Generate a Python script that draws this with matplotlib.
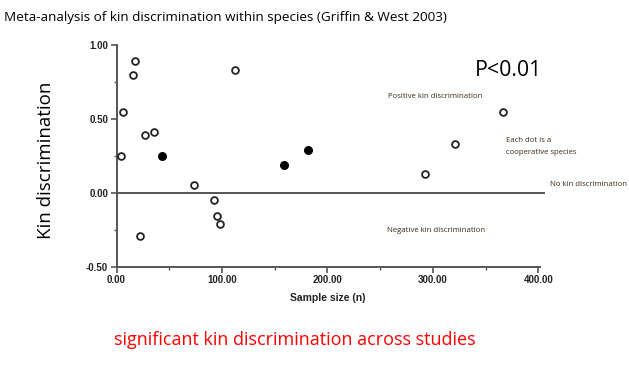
import matplotlib
matplotlib.use("Agg")
import matplotlib.pyplot as plt

# Data
open_n = [4, 6, 18, 16, 27, 36, 112, 22, 73, 92, 95, 98, 292, 321, 366]
open_k = [0.25, 0.55, 0.89, 0.80, 0.39, 0.41, 0.83, -0.29, 0.05, -0.05, -0.16, -0.21, 0.125, 0.333, 0.55]
filled_n = [43, 159, 182]
filled_k = [0.25, 0.186, 0.288]
xticks = [0, 100, 200, 300, 400]
yticks = [-0.5, 0.0, 0.5, 1.0]

W, H = 629, 365
fig = plt.figure(figsize=(W / 100, H / 100), dpi=100)
fig.patch.set_facecolor("white")

def fx(px):
    return px / W

def fy(py):
    return 1 - py / H

left, right, top, bottom = 116.5, 539.5, 45, 266.7
ax = fig.add_axes([fx(left), fy(bottom), (right - left) / W, (bottom - top) / H])
ax.set_xlim(0, 401)
ax.set_ylim(-0.5, 1.0)

ax.scatter(open_n, open_k, s=24, facecolors="white", edgecolors="#222222", linewidths=1.3, zorder=3, clip_on=False)
ax.scatter(filled_n, filled_k, s=32, facecolors="black", edgecolors="black", linewidths=0.8, zorder=3, clip_on=False)

ax.plot([0, 405], [0, 0], color="#555555", lw=1.4, clip_on=False, zorder=2)

for s in ["top", "right"]:
    ax.spines[s].set_visible(False)
for s in ["left", "bottom"]:
    ax.spines[s].set_color("#555555")
    ax.spines[s].set_linewidth(1.4)

ax.set_xticks(xticks)
ax.set_xticklabels([f"{v:.2f}" for v in xticks])
ax.set_yticks(yticks)
ax.set_yticklabels([f"{v:.2f}" for v in yticks])
ax.set_xticks([50, 150, 250, 350], minor=True)
ax.set_yticks([-0.25, 0.25, 0.75], minor=True)
ax.tick_params(which="major", length=4, width=1.2, color="#555555", labelsize=7, pad=2)
ax.tick_params(which="minor", length=2.5, width=1.0, color="#555555")
for lab in ax.get_xticklabels() + ax.get_yticklabels():
    lab.set_fontweight("bold")
    lab.set_fontfamily("Liberation Sans")
    lab.set_color("#222222")

ax.set_xlabel("Sample size (n)", fontsize=7.5, fontweight="bold", family="Liberation Sans", labelpad=6, color="#222222")

# Texts
fig.text(fx(4), fy(17), "Meta-analysis of kin discrimination within species (Griffin & West 2003)",
         fontsize=9.7, family="Open Sans", va="center", ha="left", color="black")
fig.text(fx(46), fy(160), "Kin discrimination", rotation=90, fontsize=13.5, family="Open Sans",
         va="center", ha="center", color="black")
fig.text(fx(475), fy(70), "P<0.01", fontsize=15.3, family="Open Sans", va="center", ha="left", color="black")
ann = dict(fontsize=5.6, family="Open Sans", va="center", ha="left", color="#3a2a1a")
fig.text(fx(388), fy(96), "Positive kin discrimination", **ann)
fig.text(fx(506), fy(140), "Each dot is a", **ann)
fig.text(fx(506), fy(153), "cooperative species", **ann)
fig.text(fx(550), fy(185), "No kin discrimination", **ann)
fig.text(fx(387), fy(230), "Negative kin discrimination", **ann)
fig.text(fx(295), fy(340), "significant kin discrimination across studies", fontsize=13,
         family="Open Sans", va="center", ha="center", color="#ff0000")

fig.savefig("out.png", dpi=100)
